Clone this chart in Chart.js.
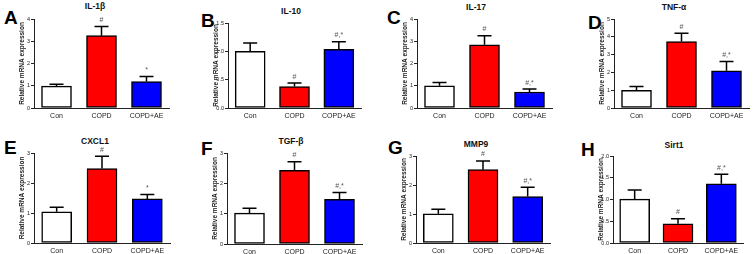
<!DOCTYPE html>
<html>
<head>
<meta charset="utf-8">
<script src="https://cdn.jsdelivr.net/npm/chart.js@4.4.0/dist/chart.umd.min.js"></script>
<style>
body { margin: 0; background: #fff; }
#wrap { position: relative; width: 753px; height: 254px; overflow: hidden; font-family: 'Liberation Sans', Arial, sans-serif; }
canvas { position: absolute; }
.letter { position: absolute; font-size: 19px; font-weight: bold; line-height: 19px; color: #000; }
.title { position: absolute; font-size: 8.5px; font-weight: bold; line-height: 1; transform: translate(-50%, -50%); white-space: nowrap; color: #111; }
</style>
</head>
<body>
<div id="wrap"></div>
<script>
const groups = ['Con', 'COPD', 'COPD+AE'];
const barColors = ['#ffffff', '#ff0000', '#0000ff'];
const panelLetters = ['A', 'B', 'C', 'D', 'E', 'F', 'G', 'H'];
const geneNames = ['IL-1β', 'IL-10', 'IL-17', 'TNF-α', 'CXCL1', 'TGF-β', 'MMP9', 'Sirt1'];

// mean and SEM per group (Con, COPD, COPD+AE)
const il1bMean = [0.98, 3.25, 1.19];
const il1bSem = [0.09, 0.41, 0.23];
const il10Mean = [1.0, 0.38, 1.035];
const il10Sem = [0.147, 0.06, 0.135];
const il17Mean = [1.0, 2.84, 0.72];
const il17Sem = [0.15, 0.41, 0.13];
const tnfMean = [0.99, 3.73, 2.09];
const tnfSem = [0.22, 0.47, 0.52];
const cxcl1Mean = [1.04, 2.48, 1.47];
const cxcl1Sem = [0.15, 0.41, 0.15];
const tgfMean = [1.02, 2.43, 1.47];
const tgfSem = [0.16, 0.28, 0.23];
const mmp9Mean = [1.01, 2.53, 1.60];
const mmp9Sem = [0.15, 0.30, 0.32];
const sirt1Mean = [1.01, 0.44, 1.36];
const sirt1Sem = [0.21, 0.12, 0.22];

const signsA = ['', '#', '*'];
const signsB = ['', '#', '#,*'];

const meanSets = [il1bMean, il10Mean, il17Mean, tnfMean, cxcl1Mean, tgfMean, mmp9Mean, sirt1Mean];
const semSets = [il1bSem, il10Sem, il17Sem, tnfSem, cxcl1Sem, tgfSem, mmp9Sem, sirt1Sem];
const signSets = [signsA, signsB, signsB, signsB, signsA, signsB, signsB, signsB];
const yMax = [4, 1.5, 4, 5, 3, 3, 3, 2];
const yStep = [1, 0.5, 1, 1, 1, 1, 1, 0.5];
const yDecimals = [0, 1, 0, 0, 0, 0, 0, 1];

// panel geometry: y-axis x, plot top/bottom, plot width, title centre, letter corner
const layout = [
    { x: 34, top: 19, bottom: 108, w: 135, tx: 95, ty: 6, lx: 4, ly: 8 },
    { x: 228, top: 23, bottom: 108, w: 133, tx: 291, ty: 10.5, lx: 201, ly: 10.5 },
    { x: 417, top: 19, bottom: 108, w: 135, tx: 476, ty: 6.7, lx: 387, ly: 7.5 },
    { x: 614, top: 19, bottom: 108, w: 135, tx: 674, ty: 6.7, lx: 588, ly: 12.5 },
    { x: 34, top: 153, bottom: 243, w: 136, tx: 95, ty: 140.7, lx: 4, ly: 137.5 },
    { x: 227, top: 153, bottom: 244, w: 135, tx: 291, ty: 140.7, lx: 201, ly: 138.5 },
    { x: 416, top: 156, bottom: 243, w: 134, tx: 476, ty: 143.7, lx: 388, ly: 137.5 },
    { x: 613, top: 156, bottom: 243, w: 130, tx: 674, ty: 145.3, lx: 581, ly: 139.5 }
];

const FONT = "'Liberation Sans', Arial, sans-serif";
const Y_W = 18, PAD_T = 12, PAD_R = 12, X_H = 14;

const errorBarPlugin = {
    id: 'errorBars',
    afterDatasetsDraw(chart) {
        const ctx = chart.ctx;
        const ds = chart.data.datasets[0];
        const meta = chart.getDatasetMeta(0);
        const yScale = chart.scales.y;
        ctx.save();
        meta.data.forEach((bar, i) => {
            const m = ds.data[i];
            const e = ds.errors[i];
            const y0 = yScale.getPixelForValue(m);
            const y1 = yScale.getPixelForValue(m + e);
            ctx.strokeStyle = '#000';
            ctx.lineWidth = 1.5;
            ctx.beginPath();
            ctx.moveTo(bar.x, y0);
            ctx.lineTo(bar.x, y1);
            ctx.moveTo(bar.x - 7, y1);
            ctx.lineTo(bar.x + 7, y1);
            ctx.stroke();
            const s = ds.signs[i];
            if (s) {
                ctx.fillStyle = '#555';
                ctx.font = '7px ' + FONT;
                ctx.textAlign = 'center';
                ctx.textBaseline = 'bottom';
                ctx.fillText(s, bar.x, y1 - 3);
            }
        });
        ctx.restore();
    }
};

const wrap = document.getElementById('wrap');

layout.forEach((p, k) => {
    const letter = document.createElement('div');
    letter.className = 'letter';
    letter.style.left = p.lx + 'px';
    letter.style.top = p.ly + 'px';
    letter.textContent = panelLetters[k];
    wrap.appendChild(letter);

    const title = document.createElement('div');
    title.className = 'title';
    title.style.left = p.tx + 'px';
    title.style.top = p.ty + 'px';
    title.textContent = geneNames[k];
    wrap.appendChild(title);

    const canvas = document.createElement('canvas');
    const cw = Y_W + p.w + PAD_R;
    const ch = PAD_T + (p.bottom - p.top) + X_H;
    canvas.width = cw;
    canvas.height = ch;
    canvas.style.width = cw + 'px';
    canvas.style.height = ch + 'px';
    canvas.style.left = (p.x - Y_W) + 'px';
    canvas.style.top = (p.top - PAD_T) + 'px';
    wrap.appendChild(canvas);

    const dec = yDecimals[k];
    new Chart(canvas.getContext('2d'), {
        type: 'bar',
        data: {
            labels: groups,
            datasets: [{
                data: meanSets[k],
                errors: semSets[k],
                signs: signSets[k],
                backgroundColor: barColors,
                borderColor: '#000',
                borderWidth: 1.5,
                borderSkipped: false,
                barThickness: 30
            }]
        },
        options: {
            responsive: false,
            animation: false,
            devicePixelRatio: 1,
            layout: { padding: { top: PAD_T, right: PAD_R, bottom: 0, left: 0 } },
            plugins: { legend: { display: false }, tooltip: { enabled: false } },
            scales: {
                x: {
                    type: 'category',
                    offset: true,
                    grid: { display: false, drawTicks: false },
                    border: { display: true, color: '#222', width: 1 },
                    ticks: { color: '#222', font: { family: FONT, size: 7 }, padding: 4, maxRotation: 0, autoSkip: false },
                    afterFit: s => { s.height = X_H; }
                },
                y: {
                    min: 0,
                    max: yMax[k],
                    grid: { drawOnChartArea: false, drawTicks: true, tickLength: 3, color: '#222' },
                    border: { display: true, color: '#222', width: 1 },
                    ticks: {
                        stepSize: yStep[k],
                        color: '#222',
                        padding: 1,
                        autoSkip: false,
                        font: { family: FONT, size: 5.5 },
                        callback: v => v.toFixed(dec)
                    },
                    title: {
                        display: true,
                        text: 'Relative mRNA expression',
                        color: '#222',
                        font: { family: FONT, size: 6.5, weight: 'bold' },
                        padding: { top: 2, bottom: 0 }
                    },
                    afterFit: s => { s.width = Y_W; }
                }
            }
        },
        plugins: [errorBarPlugin]
    });
});
</script>
</body>
</html>
